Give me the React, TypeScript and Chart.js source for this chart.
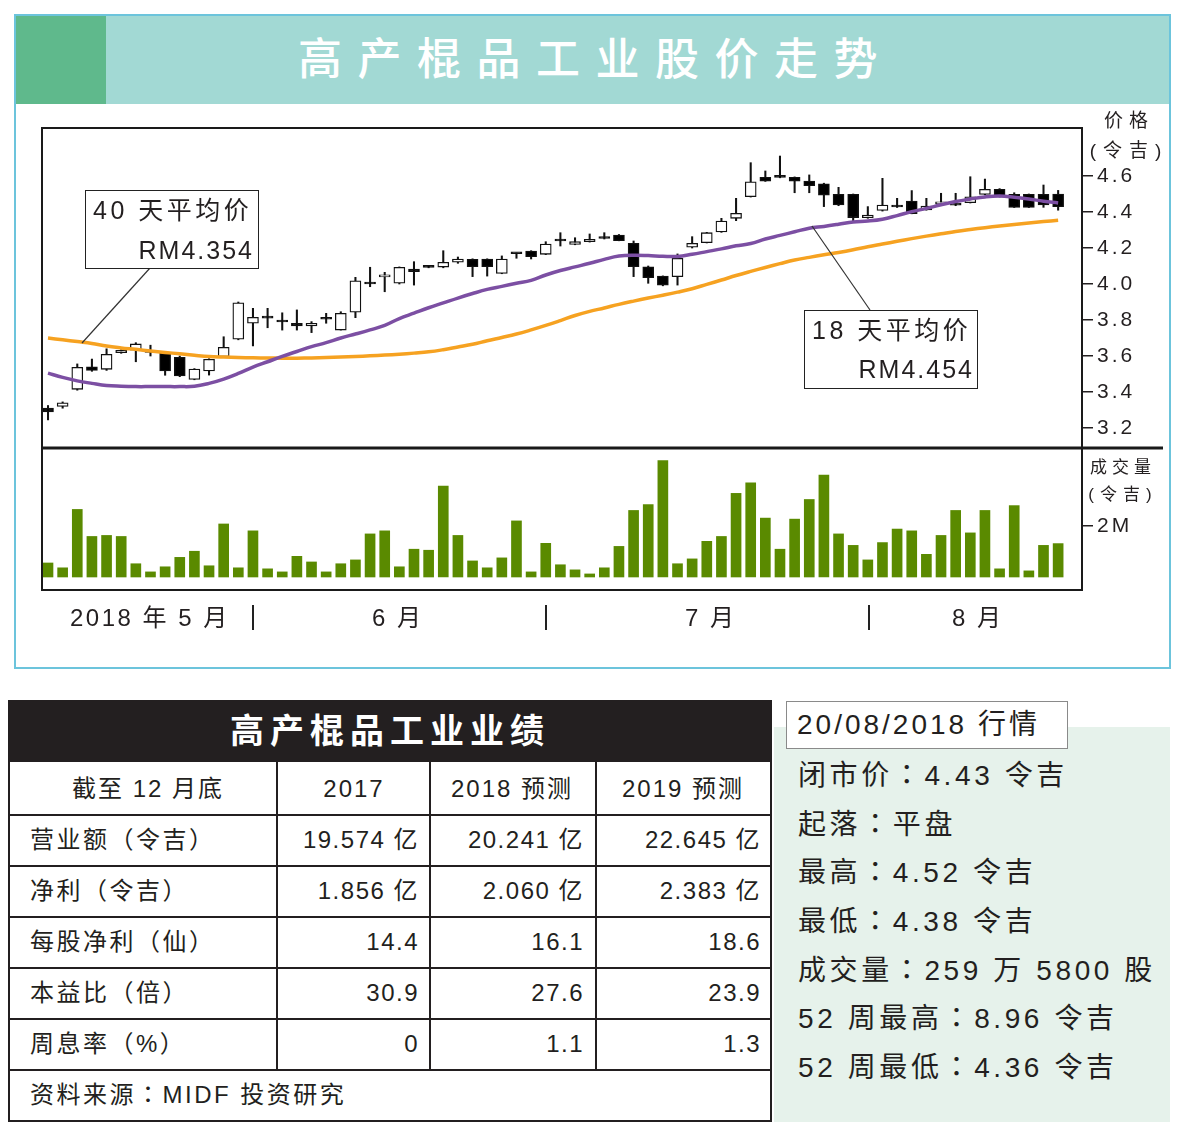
import React, { useEffect, useRef } from "react";
import { Chart, registerables } from "chart.js";

Chart.register(...registerables);

const FONT = '"Liberation Sans", "Noto Sans CJK SC", sans-serif';
const PUNCT_FONT = '"Noto Sans CJK TC", sans-serif';
const INK = "#231f20";
const W = 1177;

// ---- price data (RM), 70 trading days, May–Aug 2018 ----
const opens = [3.31, 3.32, 3.415, 3.54, 3.526, 3.618, 3.633, 3.625, 3.615, 3.593,
  3.47, 3.517, 3.596, 3.693, 3.782, 3.815, 3.793, 3.782, 3.767, 3.807,
  3.744, 3.843, 4.008, 4.04, 4.004, 4.083, 4.095, 4.094, 4.121, 4.137,
  4.139, 4.059, 4.171, 4.183, 4.165, 4.242, 4.22, 4.235, 4.255, 4.272,
  4.226, 4.096, 4.044, 4.041, 4.204, 4.23, 4.289, 4.365, 4.485, 4.593,
  4.594, 4.593, 4.572, 4.557, 4.498, 4.498, 4.368, 4.409, 4.439, 4.461,
  4.411, 4.445, 4.441, 4.452, 4.498, 4.526, 4.498, 4.498, 4.498, 4.5];
const highs = [3.325, 3.345, 3.556, 3.583, 3.64, 3.635, 3.674, 3.66, 3.62, 3.6,
  3.53, 3.585, 3.707, 3.9, 3.865, 3.865, 3.84, 3.856, 3.791, 3.837,
  3.846, 4.037, 4.093, 4.065, 4.095, 4.124, 4.1, 4.185, 4.15, 4.14,
  4.14, 4.156, 4.172, 4.185, 4.235, 4.285, 4.257, 4.278, 4.285, 4.275,
  4.239, 4.1, 4.045, 4.167, 4.263, 4.287, 4.365, 4.476, 4.674, 4.628,
  4.711, 4.595, 4.606, 4.56, 4.537, 4.5, 4.43, 4.587, 4.476, 4.519,
  4.476, 4.504, 4.504, 4.596, 4.583, 4.53, 4.507, 4.5, 4.55, 4.52];
const lows = [3.245, 3.31, 3.41, 3.515, 3.52, 3.615, 3.568, 3.6, 3.493, 3.485,
  3.468, 3.494, 3.594, 3.69, 3.656, 3.757, 3.744, 3.744, 3.73, 3.782,
  3.744, 3.813, 3.985, 3.957, 4.0, 3.994, 4.09, 4.09, 4.115, 4.041,
  4.044, 4.057, 4.143, 4.139, 4.163, 4.211, 4.218, 4.233, 4.25, 4.24,
  4.041, 4.004, 3.99, 3.994, 4.2, 4.228, 4.287, 4.352, 4.483, 4.57,
  4.59, 4.507, 4.507, 4.43, 4.435, 4.35, 4.365, 4.405, 4.425, 4.39,
  4.41, 4.44, 4.435, 4.45, 4.495, 4.483, 4.425, 4.425, 4.426, 4.41];
const closes = [3.29, 3.34, 3.537, 3.52, 3.609, 3.632, 3.667, 3.62, 3.517, 3.489,
  3.528, 3.582, 3.648, 3.896, 3.815, 3.81, 3.789, 3.767, 3.782, 3.804,
  3.837, 4.018, 4.0, 4.05, 4.093, 4.068, 4.092, 4.121, 4.139, 4.096,
  4.096, 4.139, 4.168, 4.152, 4.222, 4.239, 4.235, 4.248, 4.253, 4.241,
  4.096, 4.035, 3.994, 4.143, 4.226, 4.285, 4.35, 4.393, 4.568, 4.572,
  4.592, 4.572, 4.546, 4.494, 4.439, 4.368, 4.383, 4.439, 4.428, 4.391,
  4.433, 4.452, 4.438, 4.485, 4.526, 4.485, 4.426, 4.426, 4.439, 4.43];

// ---- moving averages (RM) ----
const ma18 = [3.505, 3.481, 3.462, 3.448, 3.436, 3.432, 3.43, 3.43, 3.43, 3.43,
  3.432, 3.448, 3.472, 3.503, 3.538, 3.568, 3.598, 3.625, 3.652, 3.674,
  3.7, 3.722, 3.745, 3.77, 3.808, 3.838, 3.868, 3.895, 3.922, 3.947,
  3.97, 3.987, 4.004, 4.02, 4.05, 4.075, 4.095, 4.115, 4.137, 4.155,
  4.16, 4.158, 4.154, 4.153, 4.165, 4.18, 4.195, 4.212, 4.225, 4.25,
  4.27, 4.29, 4.31, 4.32, 4.332, 4.345, 4.35, 4.36, 4.38, 4.402,
  4.42, 4.44, 4.458, 4.472, 4.484, 4.489, 4.482, 4.472, 4.46, 4.45];
const ma40 = [3.7, 3.69, 3.68, 3.67, 3.655, 3.645, 3.637, 3.628, 3.62, 3.612,
  3.604, 3.597, 3.594, 3.592, 3.59, 3.589, 3.588, 3.588, 3.589, 3.591,
  3.594, 3.597, 3.601, 3.605, 3.61, 3.616, 3.623, 3.635, 3.65, 3.665,
  3.685, 3.703, 3.722, 3.745, 3.77, 3.797, 3.825, 3.848, 3.867, 3.887,
  3.905, 3.922, 3.938, 3.955, 3.974, 3.998, 4.022, 4.047, 4.07, 4.092,
  4.113, 4.133, 4.148, 4.162, 4.175, 4.19, 4.207, 4.222, 4.237, 4.252,
  4.266, 4.279, 4.292, 4.303, 4.313, 4.322, 4.331, 4.339, 4.347, 4.354];

// ---- volume (millions) ----
const volumes = [0.55, 0.36, 2.65, 1.59, 1.63, 1.59, 0.52, 0.2, 0.4, 0.77,
  1.01, 0.44, 2.08, 0.36, 1.81, 0.32, 0.2, 0.81, 0.59, 0.2,
  0.52, 0.67, 1.69, 1.81, 0.4, 1.09, 1.05, 3.57, 1.63, 0.63,
  0.36, 0.75, 2.2, 0.2, 1.32, 0.48, 0.28, 0.12, 0.36, 1.2,
  2.61, 2.84, 4.57, 0.52, 0.71, 1.4, 1.59, 3.28, 3.69, 2.31,
  1.09, 2.27, 3.04, 4.0, 1.69, 1.24, 0.67, 1.35, 1.88, 1.81,
  0.89, 1.63, 2.61, 1.73, 2.61, 0.32, 2.8, 0.24, 1.24, 1.31];

// ---- axis ticks / labels ----
const priceTicks = [3.2, 3.4, 3.6, 3.8, 4.0, 4.2, 4.4, 4.6];
const volumeTick = 2; // millions, labelled "2M"
const monthLabels = ["2018 年 5 月", "6 月", "7 月", "8 月"];

// ---- results table ----
const tableHeader = ["截至 12 月底", "2017", "2018 预测", "2019 预测"];
const rowLabels = ["营业额（令吉）", "净利（令吉）", "每股净利（仙）", "本益比（倍）", "周息率（%）"];
const revenue = ["19.574 亿", "20.241 亿", "22.645 亿"];
const netProfit = ["1.856 亿", "2.060 亿", "2.383 亿"];
const eps = ["14.4", "16.1", "18.6"];
const peRatio = ["30.9", "27.6", "23.9"];
const divYield = ["0", "1.1", "1.3"];
const tableSource = "资料来源：MIDF 投资研究";

// ---- market summary ----
const marketDate = "20/08/2018 行情";
const marketLines = ["闭市价：4.43 令吉", "起落：平盘", "最高：4.52 令吉", "最低：4.38 令吉",
  "成交量：259 万 5800 股", "52 周最高：8.96 令吉", "52 周最低：4.36 令吉"];

// scale ranges (layout)
const PMIN = 2.3, PMAX = 4.8667;
const VMIN = -0.51, VMAX = 17.61;
const XMIN = -0.41, XMAX = 70.63;

// render a string, giving the full-width colon a centred (TC-style) glyph
function withColon(s: string) {
  const k = s.indexOf("：");
  if (k < 0) return s;
  return (
    <>
      {s.slice(0, k)}
      <span style={{ fontFamily: PUNCT_FONT, lineHeight: 0 }}>：</span>
      {s.slice(k + 1)}
    </>
  );
}

function T(props: any) {
  const { x, y, size, children, ls = 0, color = INK, weight = 400, align = "left" } = props;
  const style: any = {
    position: "absolute", top: y - size / 2, fontSize: size, lineHeight: `${size}px`,
    letterSpacing: ls, color, fontWeight: weight, fontFamily: FONT, whiteSpace: "nowrap",
  };
  if (align === "left") style.left = x;
  else if (align === "right") style.right = W - x;
  else { style.left = x; style.transform = "translateX(-50%)"; }
  return <div style={style}>{children}</div>;
}

function Box(props: any) {
  const { x, y, w, h, bg = "transparent", border } = props;
  return <div style={{ position: "absolute", left: x, top: y, width: w, height: h, background: bg, border, boxSizing: "border-box" }} />;
}

function PriceChart() {
  const ref = useRef<HTMLCanvasElement>(null);
  useEffect(() => {
    const idx = closes.map((_, i) => i);
    const framePlugin = {
      id: "frame",
      beforeDraw(chart: any) { chart.ctx.letterSpacing = "3px"; },
      afterDraw(chart: any) {
        const { ctx, chartArea: a } = chart;
        ctx.save();
        ctx.letterSpacing = "0px";
        ctx.strokeStyle = "#1a1a1a";
        ctx.lineWidth = 2;
        ctx.strokeRect(a.left, a.top, a.right - a.left, a.bottom - a.top);
        const ySep = a.top + (a.bottom - a.top) * 320 / 462;
        ctx.lineWidth = 3;
        ctx.beginPath();
        ctx.moveTo(a.left, ySep);
        ctx.lineTo(a.right + 81, ySep);
        ctx.stroke();
        ctx.restore();
      },
    };
    const chart = new Chart(ref.current!, {
      type: "bar",
      data: {
        datasets: [
          {
            type: "line", label: "18天", order: 0, yAxisID: "y",
            data: idx.map((i) => ({ x: i, y: ma18[i] })),
            borderColor: "#7c4fa3", borderWidth: 3.5, pointRadius: 0, tension: 0.4,
          } as any,
          {
            type: "line", label: "40天", order: 0, yAxisID: "y",
            data: idx.map((i) => ({ x: i, y: ma40[i] })),
            borderColor: "#f6a221", borderWidth: 3.5, pointRadius: 0, tension: 0.4,
          } as any,
          {
            type: "bar", label: "body", order: 1, yAxisID: "y", grouped: false,
            data: idx.map((i) => ({ x: i, y: [opens[i], closes[i]] })),
            backgroundColor: idx.map((i) => (closes[i] > opens[i] ? "#ffffff" : "#000000")),
            borderColor: "#111", borderWidth: 1.3, borderSkipped: false,
            barThickness: 11, minBarLength: 2,
          } as any,
          {
            type: "bar", label: "wick", order: 2, yAxisID: "y", grouped: false,
            data: idx.map((i) => ({ x: i, y: [lows[i], highs[i]] })),
            backgroundColor: "#111", barThickness: 1.4,
          } as any,
          {
            type: "bar", label: "vol", order: 3, yAxisID: "y1", grouped: false,
            data: idx.map((i) => ({ x: i, y: volumes[i] })),
            backgroundColor: "#5a8a00", barThickness: 10,
          } as any,
        ],
      },
      options: {
        animation: false,
        responsive: false,
        devicePixelRatio: 1,
        layout: { padding: { left: 28, top: 24, right: 0, bottom: 78 } },
        plugins: { legend: { display: false }, tooltip: { enabled: false } },
        scales: {
          x: { type: "linear", min: XMIN, max: XMAX, offset: false, display: false, grid: { offset: false } },
          y1: { type: "linear", display: false, min: VMIN, max: VMAX },
          y: {
            type: "linear", position: "right", min: PMIN, max: PMAX,
            afterBuildTicks: (s: any) => {
              const vol2M = PMIN + (volumeTick - VMIN) / (VMAX - VMIN) * (PMAX - PMIN);
              s.ticks = [vol2M, ...priceTicks].map((v) => ({ value: v }));
            },
            afterFit: (s: any) => { s.width = 88; },
            grid: { drawOnChartArea: false, drawTicks: true, tickLength: 11, color: INK, lineWidth: 1.5 },
            border: { display: true, color: "#111", width: 2 },
            ticks: {
              autoSkip: false, padding: 4, color: INK,
              font: { family: FONT, size: 21 },
              callback: (v: any) => (v < 3 ? `${volumeTick}M` : Number(v).toFixed(1)),
            },
          },
        },
      } as any,
      plugins: [framePlugin],
    });
    return () => chart.destroy();
  }, []);
  return <canvas ref={ref} width={1156} height={564} style={{ position: "absolute", left: 14, top: 104, width: 1156, height: 564 }} />;
}

export default function App() {
  const rows = [revenue, netProfit, eps, peRatio, divYield];
  const rowY = [840, 891, 942, 993, 1044];
  const colRight = [419, 584, 761];
  const monthX = [70, 372, 685, 952];
  const hLines = [815, 866, 917, 968, 1019, 1070];
  return (
    <div style={{ position: "absolute", left: 0, top: 0, width: W, height: 1134, background: "#fff", overflow: "hidden", fontFamily: FONT }}>
      {/* top panel */}
      <Box x={14} y={14} w={1157} h={655} border="2px solid #6cc4dc" />
      <Box x={16} y={16} w={1153} h={88} bg="#a2d9d4" />
      <Box x={16} y={16} w={90} h={88} bg="#5fb98c" />
      <T x={298} y={60} size={44} ls={15.5} color="#ffffff" weight={500}>高产棍品工业股价走势</T>

      <PriceChart />

      {/* axis titles */}
      <T x={1129} y={120} size={19} ls={6} align="center">价格</T>
      <T x={1129} y={150} size={19} ls={7} align="center">(令吉)</T>
      <T x={1123} y={467} size={17} ls={5} align="center">成交量</T>
      <T x={1123} y={494} size={17} ls={6} align="center">(令吉)</T>

      {/* month labels */}
      {monthLabels.map((m, i) => (
        <T key={m} x={monthX[i]} y={618} size={24} ls={2.5}>{m}</T>
      ))}
      {[253, 546, 869].map((x) => (
        <Box key={x} x={x - 1} y={605} w={2} h={25} bg="#222" />
      ))}

      {/* annotation boxes */}
      <svg width={W} height={700} style={{ position: "absolute", left: 0, top: 0 }}>
        <line x1={150} y1={268} x2={82} y2={343} stroke="#333" strokeWidth={1.2} />
        <line x1={870} y1={310} x2={812} y2={226} stroke="#333" strokeWidth={1.2} />
      </svg>
      <Box x={85} y={190} w={174} h={79} bg="#fff" border="1.5px solid #222" />
      <T x={93} y={210} size={25} ls={3.5}>40 天平均价</T>
      <T x={254} y={250} size={25} ls={2} align="right">RM4.354</T>
      <Box x={804} y={310} w={174} h={79} bg="#fff" border="1.5px solid #222" />
      <T x={812} y={330} size={25} ls={3.5}>18 天平均价</T>
      <T x={974} y={369} size={25} ls={2} align="right">RM4.454</T>

      {/* results table */}
      <Box x={8} y={700} w={764} h={62} bg="#231f20" />
      <T x={390} y={731} size={34} ls={6} weight={700} color="#fff" align="center">高产棍品工业业绩</T>
      <Box x={8} y={700} w={764} h={422} border="2px solid #231f20" />
      {hLines.map((y) => (
        <Box key={y} x={8} y={y - 1} w={764} h={2} bg="#231f20" />
      ))}
      {[277, 430, 596].map((x) => (
        <Box key={x} x={x - 1} y={762} w={2} h={308} bg="#231f20" />
      ))}
      {tableHeader.map((h, i) => (
        <T key={h} x={[148, 354, 512, 683][i]} y={789} size={24} ls={2} align="center">{h}</T>
      ))}
      {rowLabels.map((lab, r) => (
        <React.Fragment key={lab}>
          <T x={30} y={rowY[r]} size={24} ls={2.5}>{lab}</T>
          {rows[r].map((v, c) => (
            <T key={c} x={colRight[c]} y={rowY[r]} size={24} ls={1.5} align="right">{v}</T>
          ))}
        </React.Fragment>
      ))}
      <T x={30} y={1095} size={24} ls={2.5}>{withColon(tableSource)}</T>

      {/* market summary */}
      <Box x={774} y={727} w={396} h={395} bg="#e6f2eb" />
      <Box x={786} y={701} w={282} h={48} bg="#fff" border="1.5px solid #8a8a8a" />
      <T x={797} y={725} size={28} ls={3}>{marketDate}</T>
      {marketLines.map((t, i) => (
        <T key={t} x={798} y={776 + i * 48.67} size={28} ls={3.6}>{withColon(t)}</T>
      ))}
    </div>
  );
}
